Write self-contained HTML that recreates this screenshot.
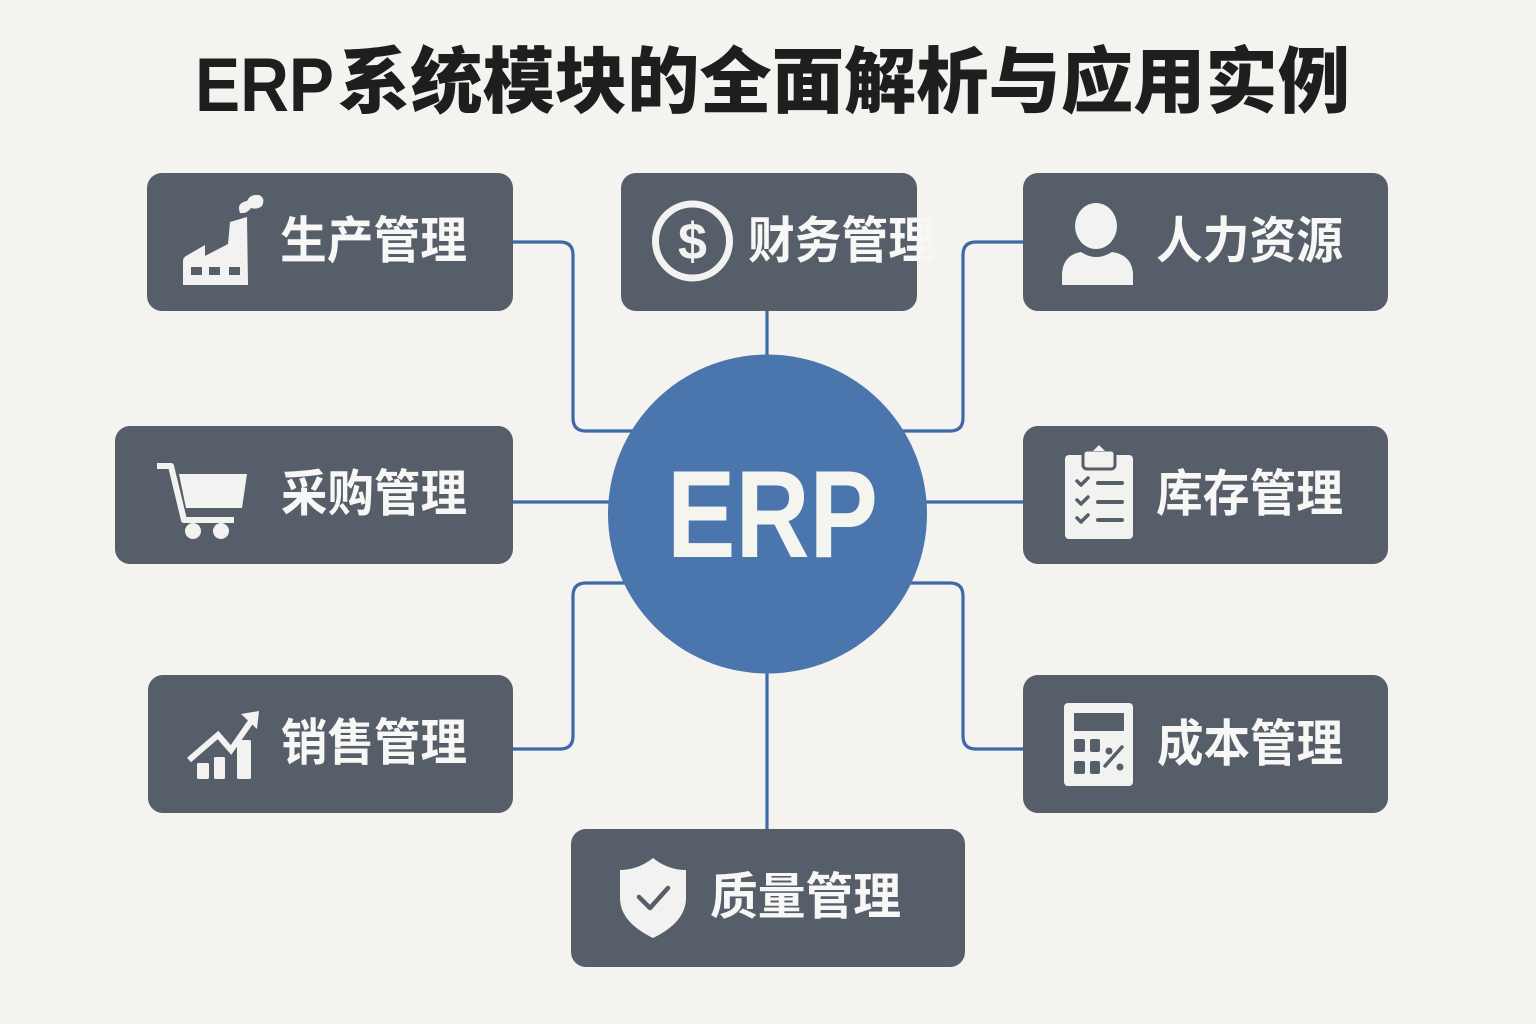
<!DOCTYPE html>
<html><head><meta charset="utf-8"><style>
html,body{margin:0;padding:0;background:#f4f3ef;}
svg{display:block;}
text{font-family:"Liberation Sans","Noto Sans CJK SC",sans-serif;font-weight:bold;}
</style></head><body>
<svg width="1536" height="1024" viewBox="0 0 1536 1024" xmlns="http://www.w3.org/2000/svg">
<rect width="1536" height="1024" fill="#f4f3ef"/>
<!-- Title -->
<text x="195" y="111" font-size="76" fill="#1e1e1e" textLength="139" lengthAdjust="spacingAndGlyphs">ERP</text>
<text x="338" y="107" font-size="72" fill="#1e1e1e" textLength="1012" lengthAdjust="spacingAndGlyphs" style="font-family:'Noto Sans CJK SC',sans-serif;font-weight:900">系统模块的全面解析与应用实例</text>

<!-- connectors -->
<g fill="none" stroke="#3d69a6" stroke-width="3.2">
<path d="M512,242 H560 Q573,242 573,255 V418 Q573,431 586,431 H640"/>
<path d="M767,310 V358"/>
<path d="M1023,242 H976 Q963,242 963,255 V418 Q963,431 950,431 H895"/>
<path d="M512,502 H612"/>
<path d="M924,502 H1023"/>
<path d="M512,749 H560 Q573,749 573,736 V596 Q573,583 586,583 H640"/>
<path d="M1023,749 H976 Q963,749 963,736 V596 Q963,583 950,583 H895"/>
<path d="M767,670 V830"/>
</g>

<!-- circle -->
<circle cx="767.5" cy="514" r="159.5" fill="#4a76ad"/>
<text x="667" y="557" font-size="124" fill="#f5f5f0" textLength="211" lengthAdjust="spacingAndGlyphs">ERP</text>

<!-- boxes -->
<g fill="#565e6a">
<rect x="147" y="173" width="366" height="138" rx="15"/>
<rect x="621" y="173" width="296" height="138" rx="15"/>
<rect x="1023" y="173" width="365" height="138" rx="15"/>
<rect x="115" y="426" width="398" height="138" rx="15"/>
<rect x="1023" y="426" width="365" height="138" rx="15"/>
<rect x="148" y="675" width="365" height="138" rx="15"/>
<rect x="1023" y="675" width="365" height="138" rx="15"/>
<rect x="571" y="829" width="394" height="138" rx="15"/>
</g>

<!-- labels -->
<g fill="#f7f7f5" font-size="50">
<text x="280" y="258" textLength="187" lengthAdjust="spacingAndGlyphs">生产管理</text>
<text x="748" y="258" textLength="187" lengthAdjust="spacingAndGlyphs">财务管理</text>
<text x="1156" y="258" textLength="187" lengthAdjust="spacingAndGlyphs">人力资源</text>
<text x="281" y="511" textLength="186" lengthAdjust="spacingAndGlyphs">采购管理</text>
<text x="1156" y="511" textLength="187" lengthAdjust="spacingAndGlyphs">库存管理</text>
<text x="281" y="760" textLength="186" lengthAdjust="spacingAndGlyphs">销售管理</text>
<text x="1157" y="761" textLength="186" lengthAdjust="spacingAndGlyphs">成本管理</text>
<text x="710" y="914" textLength="191" lengthAdjust="spacingAndGlyphs">质量管理</text>
</g>

<!-- factory icon -->
<g fill="#f2f2f0">
<path d="M183,285 L183,261 Q183,258 186,256 L205,245 L205,256 L228,244 L230,222 L247,217 L248,285 Z"/>
<path d="M240,213 Q236,203 247,201 Q250,194 259,195 Q266,198 262,206 Q257,210 251,208 Q247,214 240,213 Z"/>
</g>
<g fill="#565e6a">
<rect x="191" y="267" width="11" height="8"/>
<rect x="209" y="267" width="11" height="8"/>
<rect x="229" y="267" width="11" height="8"/>
</g>

<!-- dollar icon -->
<circle cx="692.5" cy="241" r="37" fill="none" stroke="#f2f2f0" stroke-width="7"/>
<text x="692.5" y="259" font-size="52" fill="#f2f2f0" text-anchor="middle" style="font-family:'Liberation Sans',sans-serif">$</text>

<!-- person icon -->
<g fill="#f2f2f0">
<ellipse cx="1096" cy="226" rx="21" ry="23"/>
<path d="M1062,285 L1062,274 Q1063,255 1081,252 Q1096,262 1112,252 Q1132,255 1133,274 L1133,285 Z"/>
</g>

<!-- cart icon -->
<g>
<polyline points="157,466 171,466 184,520 234,520" fill="none" stroke="#f2f2f0" stroke-width="6" stroke-linejoin="round"/>
<path d="M179,474 L247,474 L242,508 L186,508 Z" fill="#f2f2f0"/>
<circle cx="193" cy="531" r="8" fill="#f2f2f0"/>
<circle cx="221" cy="531" r="8" fill="#f2f2f0"/>
</g>

<!-- clipboard icon -->
<g>
<rect x="1065" y="455" width="68" height="84" rx="4" fill="#f2f2f0"/>
<rect x="1083" y="450" width="32" height="19" rx="4" fill="#f2f2f0" stroke="#565e6a" stroke-width="3"/>
<path d="M1093,451 L1099,445 L1105,451 Z" fill="#f2f2f0"/>
<g fill="none" stroke="#565e6a" stroke-width="3.5" stroke-linecap="round" stroke-linejoin="round">
<polyline points="1077,481 1081,485 1088,478"/>
<polyline points="1077,500 1081,504 1088,497"/>
<polyline points="1077,518 1081,522 1088,515"/>
</g>
<g stroke="#565e6a" stroke-width="4" stroke-linecap="round">
<line x1="1098" y1="483" x2="1122" y2="483"/>
<line x1="1098" y1="502" x2="1122" y2="502"/>
<line x1="1098" y1="520" x2="1122" y2="520"/>
</g>
</g>

<!-- chart icon -->
<g>
<polyline points="189,760 218,735 231,750 254,717" fill="none" stroke="#f2f2f0" stroke-width="6" stroke-linejoin="miter"/>
<path d="M241,714 L259,711 L257,729 Z" fill="#f2f2f0"/>
<rect x="197" y="763" width="12" height="16" rx="1.5" fill="#f2f2f0"/>
<rect x="214" y="757" width="11" height="22" rx="1.5" fill="#f2f2f0"/>
<rect x="237" y="740" width="14" height="39" rx="1.5" fill="#f2f2f0"/>
</g>

<!-- calculator icon -->
<g>
<rect x="1064" y="703" width="69" height="83" rx="4" fill="#f2f2f0"/>
<g fill="#565e6a">
<rect x="1074" y="713" width="50" height="18" rx="1"/>
<rect x="1074" y="739" width="11" height="13" rx="2"/>
<rect x="1090" y="739" width="10" height="13" rx="2"/>
<rect x="1074" y="761" width="11" height="13" rx="2"/>
<rect x="1090" y="761" width="10" height="13" rx="2"/>
<circle cx="1109" cy="751" r="3.5"/>
<circle cx="1120" cy="767" r="3.5"/>
</g>
<line x1="1105" y1="766" x2="1122" y2="747" stroke="#565e6a" stroke-width="3.5" stroke-linecap="round"/>
</g>

<!-- shield icon -->
<g>
<path d="M653,858 Q668,870 686,870 L686,898 Q686,922 653,938 Q620,922 620,898 L620,870 Q638,870 653,858 Z" fill="#f2f2f0"/>
<polyline points="639,897 650,908 668,888" fill="none" stroke="#565e6a" stroke-width="4.5" stroke-linecap="round" stroke-linejoin="round"/>
</g>
</svg>
</body></html>
